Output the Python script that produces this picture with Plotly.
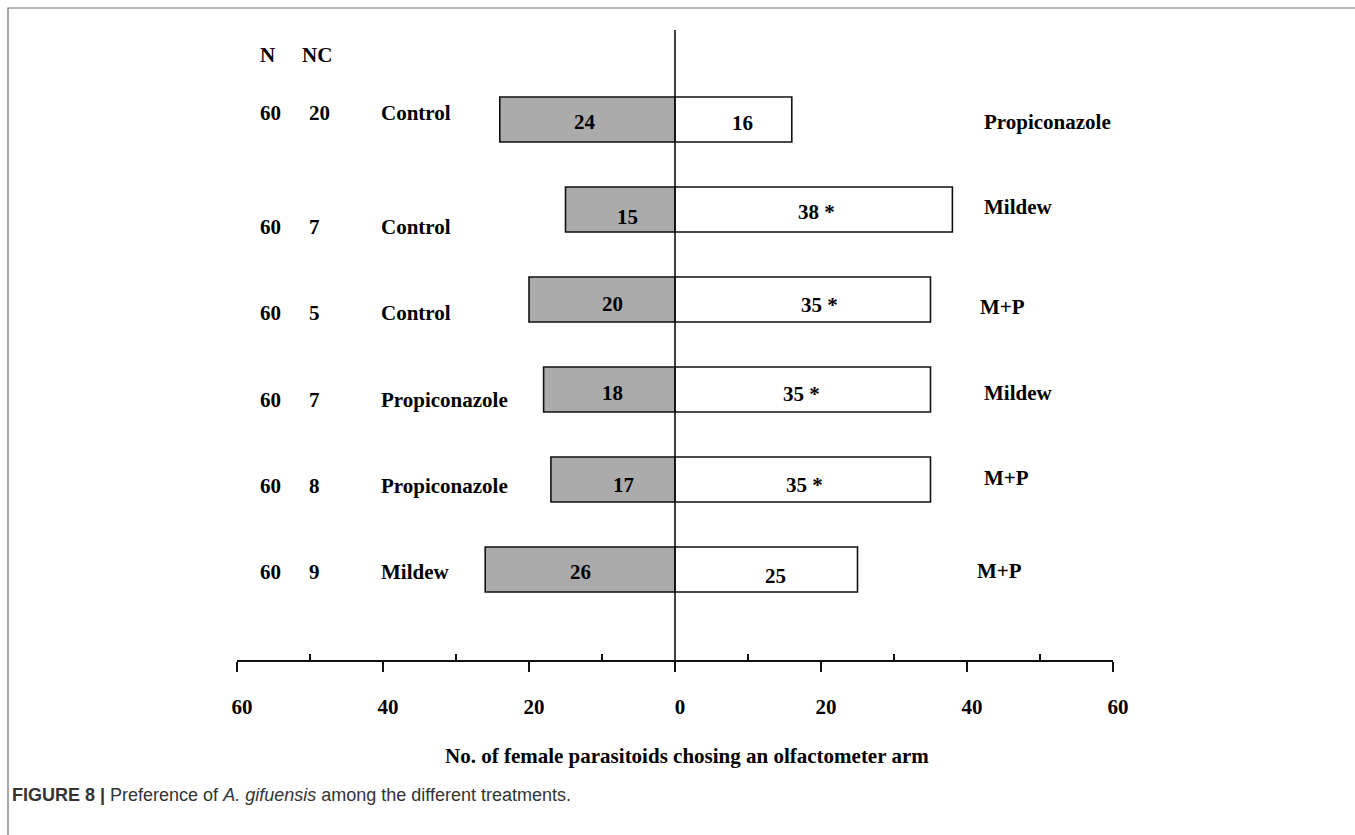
import plotly.graph_objects as go

# Olfactometer choice tests: each row pairs two odour sources
n_total = [60, 60, 60, 60, 60, 60]
n_no_choice = [20, 7, 5, 7, 8, 9]
left_source = ["Control", "Control", "Control", "Propiconazole", "Propiconazole", "Mildew"]
right_source = ["Propiconazole", "Mildew", "M+P", "Mildew", "M+P", "M+P"]
left_counts = [24, 15, 20, 18, 17, 26]
right_counts = [16, 38, 35, 35, 35, 25]
right_signif = [False, True, True, True, True, False]

tick_values = [-60, -40, -20, 0, 20, 40, 60]
minor_values = [-50, -30, -10, 10, 30, 50]
x_title = "No. of female parasitoids chosing an olfactometer arm"
caption = ("<b>FIGURE 8 |</b> Preference of <i>A. gifuensis</i> "
           "among the different treatments.")

# plot-area geometry (pixels) used to place free-floating text
L, R, T, B = 237, 1113, 30, 660
W, H = 1355, 835
PX_PER_UNIT = (R - L) / 120.0
ZERO_PX = (L + R) / 2.0


def fx(px):
    return (px - L) / (R - L)


def fy(py):
    return (B - py) / (B - T)


def xdata(px):
    return (px - ZERO_PX) / PX_PER_UNIT


rows = list(range(len(left_counts), 0, -1))  # top row has the highest y value

serif = "Liberation Serif, Times New Roman, serif"
txt = dict(family=serif, size=21, color="black")

fig = go.Figure()
fig.add_trace(go.Bar(
    y=rows, x=[-v for v in left_counts], orientation="h", width=0.5,
    marker=dict(color="#ababab", line=dict(color="#111111", width=1.6)),
    hoverinfo="skip", showlegend=False,
))
fig.add_trace(go.Bar(
    y=rows, x=right_counts, orientation="h", width=0.5,
    marker=dict(color="white", line=dict(color="#111111", width=1.6)),
    hoverinfo="skip", showlegend=False,
))

# small per-row nudges (pixels) for the text placements
left_lab_dy = [-6.5, 17.5, 13.5, 10.5, 6.5, 2.5]
bar_l_dx = [-2, 7, 10, 3, 11, 0]
bar_l_dy = [2.5, 7.5, 4.5, 3.5, 5.5, 2.5]
bar_r_dx = [8.6, 3, 17, -1, 2, 9]
bar_r_dy = [3.5, 2.5, 5.5, 4.5, 5.5, 6.5]
right_lab_px = [982, 982, 978, 982, 982, 975]
right_lab_dy = [2.5, -2.5, 7.5, 3.5, -1.5, 1.5]

ann = []
ann.append(dict(x=xdata(267), y=fy(55), xref="x", yref="paper", text="<b>N</b>",
                showarrow=False, xanchor="center", yanchor="middle", font=txt))
ann.append(dict(x=xdata(317), y=fy(55), xref="x", yref="paper", text="<b>NC</b>",
                showarrow=False, xanchor="center", yanchor="middle", font=txt))

for i, yv in enumerate(rows):
    ann.append(dict(x=xdata(270), y=yv, yshift=-left_lab_dy[i], text=f"<b>{n_total[i]}</b>",
                    showarrow=False, xanchor="center", yanchor="middle", font=txt))
    ann.append(dict(x=xdata(307), y=yv, yshift=-left_lab_dy[i], text=f"<b>{n_no_choice[i]}</b>",
                    showarrow=False, xanchor="left", yanchor="middle", font=txt))
    ann.append(dict(x=xdata(379), y=yv, yshift=-left_lab_dy[i], text=f"<b>{left_source[i]}</b>",
                    showarrow=False, xanchor="left", yanchor="middle", font=txt))
    ann.append(dict(x=-left_counts[i] / 2, y=yv, xshift=bar_l_dx[i], yshift=-bar_l_dy[i],
                    text=f"<b>{left_counts[i]}</b>",
                    showarrow=False, xanchor="center", yanchor="middle", font=txt))
    star = " *" if right_signif[i] else ""
    ann.append(dict(x=right_counts[i] / 2, y=yv, xshift=bar_r_dx[i], yshift=-bar_r_dy[i],
                    text=f"<b>{right_counts[i]}{star}</b>",
                    showarrow=False, xanchor="center", yanchor="middle", font=txt))
    ann.append(dict(x=xdata(right_lab_px[i]), y=yv, yshift=-right_lab_dy[i],
                    text=f"<b>{right_source[i]}</b>",
                    showarrow=False, xanchor="left", yanchor="middle", font=txt))

ann.append(dict(x=fx(687), y=fy(756), xref="paper", yref="paper", text=f"<b>{x_title}</b>",
                showarrow=False, xanchor="center", yanchor="middle", font=txt))
ann.append(dict(x=fx(10), y=fy(795), xref="paper", yref="paper", text=caption,
                showarrow=False, xanchor="left", yanchor="middle",
                font=dict(family="Liberation Sans, Arial, sans-serif", size=18, color="#333333")))

shapes = [
    # vertical divider at zero
    dict(type="line", xref="x", yref="paper", x0=0, x1=0, y0=0, y1=1,
         line=dict(color="#111111", width=1.6), layer="above"),
    # figure frame (top and left edges), running off the page
    dict(type="path", xref="paper", yref="paper",
         path=f"M {fx(8)},{fy(H + 5)} L {fx(8)},{fy(8)} L {fx(W + 5)},{fy(8)}",
         line=dict(color="#6e6e6e", width=1.2)),
]

fig.update_layout(
    width=W, height=H,
    margin=dict(l=L, r=W - R, t=T, b=H - B, pad=0),
    paper_bgcolor="white", plot_bgcolor="white",
    barmode="overlay",
    annotations=ann, shapes=shapes,
    xaxis=dict(
        range=[-60, 60], tickvals=tick_values,
        ticktext=[f"<b>{abs(v)}</b>" for v in tick_values],
        ticks="outside", ticklen=10, tickwidth=1.6, tickcolor="#111111",
        showline=True, linecolor="#111111", linewidth=1.6,
        showgrid=False, zeroline=False,
        tickfont=txt, ticklabelstandoff=17, ticklabelshift=5,
        minor=dict(tickvals=minor_values, ticks="inside", ticklen=6,
                   tickwidth=1.6, tickcolor="#111111", showgrid=False),
        fixedrange=True,
    ),
    yaxis=dict(
        range=[-0.0056, 6.9944], visible=False, showgrid=False, zeroline=False,
        fixedrange=True,
    ),
)

fig.write_html("out.html")
